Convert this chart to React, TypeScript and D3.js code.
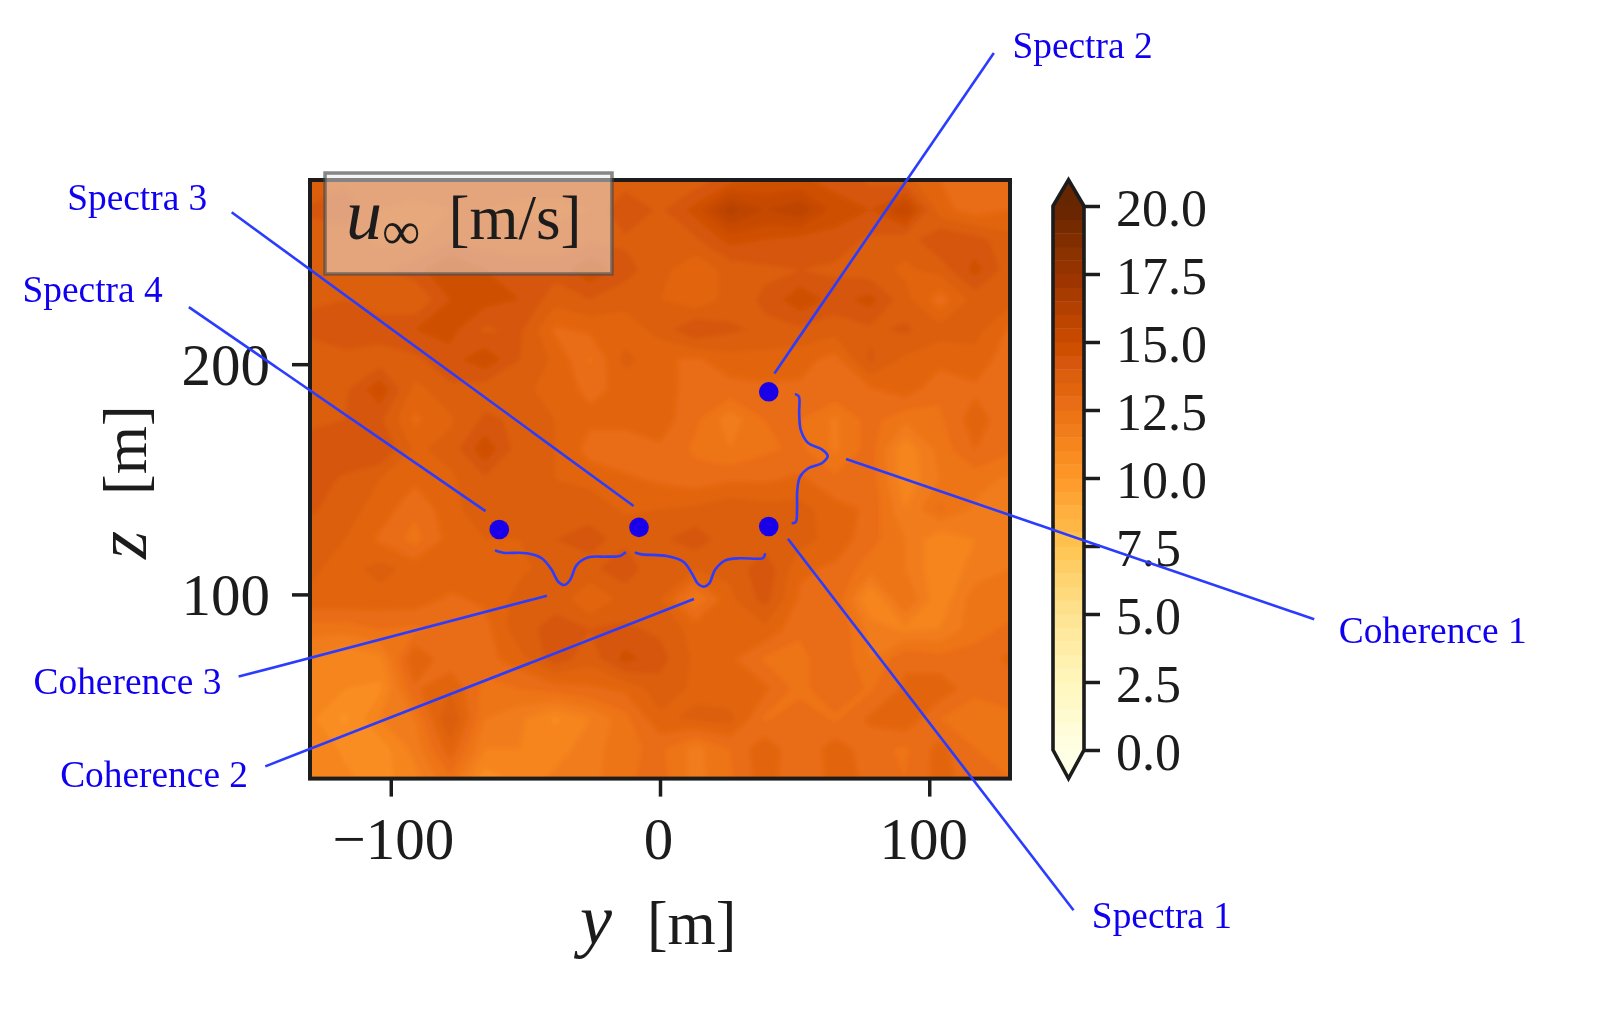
import * as d3 from 'd3';
import { useEffect, useRef } from 'react';

// wind speed on the 21 x 21 inflow plane, top row (z = 280) first
const uRows = [
	[13.5, 13.9, 13.9, 13.7, 13.7, 13.7, 13.7, 13.7, 13.7, 13.7, 13.5, 13.7, 14.3, 14.5, 14.6, 14.3, 13.9, 13.7, 13, 12.9, 12.7],
	[14.1, 14.3, 13.5, 13.4, 13.5, 13.5, 13.4, 13.4, 13.5, 14.5, 13.9, 14.7, 16.2, 15.5, 15.9, 14.8, 14.5, 15.5, 13.2, 12.7, 13],
	[13.7, 13.7, 13.4, 13.4, 13.9, 13.7, 13.7, 13.7, 13.9, 13.9, 13.7, 13.9, 14.7, 14.5, 14.3, 14.3, 13.9, 13.7, 14.5, 14.2, 13.7],
	[13.7, 13.7, 13.9, 14.3, 15, 14.5, 14.2, 14.2, 14.9, 14.2, 13.7, 13.1, 13.7, 13.9, 14, 13.9, 13.7, 13.4, 13.7, 14.7, 13.7],
	[13.9, 14, 13.7, 13.5, 14.5, 14.7, 14.5, 13.7, 14, 13.7, 13.5, 13.1, 13.7, 14.1, 14.9, 14.3, 14.7, 13.7, 12.7, 13.7, 13.7],
	[14.2, 14.2, 14.3, 14.5, 14.7, 13.9, 14.1, 12.9, 13.1, 13.2, 13.7, 14.5, 14.1, 13.9, 13.9, 13.7, 13.9, 14.1, 13.7, 13.7, 12.9],
	[13.5, 13.9, 13.7, 13.9, 14.3, 14.9, 14, 13.4, 12.4, 13.7, 13.1, 12.9, 13.3, 13.3, 13.2, 12.8, 14.1, 13.4, 13.2, 13.3, 12.7],
	[13.5, 13.9, 14.9, 13.3, 13.9, 13.7, 13.7, 13.2, 12.9, 13.1, 13.4, 12.6, 12.8, 12.9, 12.9, 12.9, 12.9, 13.3, 12.6, 12.9, 12.7],
	[13.9, 14, 14.1, 12.9, 13.4, 14.1, 13.9, 13.5, 13.1, 13.2, 13.3, 12.6, 11.7, 12.5, 12.5, 11.9, 12.7, 12.1, 12.4, 13.3, 12.6],
	[14.2, 14.5, 14.5, 13.4, 13.7, 14.9, 13.7, 13.5, 12.8, 12.6, 12.9, 12.4, 12, 12.4, 12.6, 11.9, 12.7, 11.1, 12.2, 13, 12.6],
	[14.3, 13.9, 13.5, 13.1, 13.4, 13.9, 13.7, 13.5, 13.3, 13.1, 12.9, 12.7, 12.9, 12.9, 13.1, 12.6, 12.8, 11.1, 12, 12.2, 11.9],
	[14.1, 13.7, 13.3, 12.6, 13.3, 13.9, 13.7, 13.9, 13.9, 13.4, 13.5, 13.6, 13.9, 13.7, 13.7, 13.2, 12.9, 11.5, 12.6, 11.9, 11.7],
	[13.7, 13.5, 12.9, 12.3, 13.2, 13.5, 13.5, 14, 14.1, 13.9, 13.9, 14.3, 13.7, 13.7, 13.7, 13.3, 12.7, 12, 11.1, 11.5, 11.9],
	[13.6, 13.3, 13.7, 13.3, 13.4, 13.4, 13.4, 13.7, 13.9, 14.3, 13.6, 13.5, 13.6, 14.4, 13.1, 12.9, 12.2, 12, 11.1, 11.7, 12],
	[13.4, 13.4, 13.3, 13.3, 12.9, 13.1, 13.7, 13.9, 13, 13.7, 13.5, 12, 13.4, 14.2, 12.9, 12.9, 10.9, 12.5, 11.1, 12.3, 12.2],
	[12.2, 12.2, 12.5, 12.4, 12.6, 12.8, 13.9, 14.1, 14, 14.1, 13.9, 13.3, 13.5, 13.4, 12.6, 13, 11.8, 11.4, 11.5, 12.3, 12.6],
	[11.5, 11, 11.3, 13.5, 12.6, 12.8, 13.3, 14.3, 13.7, 14.7, 14.2, 13.4, 13.1, 12.4, 12.3, 13, 12, 12.9, 12.7, 12.7, 13.1],
	[11.1, 11, 10.9, 12.9, 13.5, 12.3, 12.5, 12.7, 12.9, 13.1, 13.8, 13.4, 13.1, 13.1, 12.3, 13, 12.4, 13.1, 13.3, 12.7, 12.7],
	[11.1, 10.4, 11.5, 12, 14.1, 12, 11.6, 10.9, 11.5, 12.3, 13.4, 13.6, 13.7, 12.4, 12.9, 12.4, 13.1, 13.4, 12.5, 12, 12.4],
	[11.4, 10.9, 10.7, 11.7, 13.3, 11.5, 11.5, 11.3, 11.7, 12.4, 12.6, 11.8, 12.5, 13.4, 12.5, 13.3, 12.7, 12.4, 13.2, 12.5, 12.4],
	[11.3, 11.1, 10.8, 11.3, 12.4, 10.7, 11.2, 11.6, 11.8, 12.4, 12.7, 11.8, 12.4, 13.3, 12.5, 13.2, 12.9, 12.5, 13.2, 12.7, 12.5],
];

const yDomain = [-130, 130];
const zDomain = [20, 280];
const gridStep = 13;

const yTicks = [-100, 0, 100];
const zTicks = [100, 200];
const cbarTicks = [0, 2.5, 5, 7.5, 10, 12.5, 15, 17.5, 20];
const cbarStep = 0.5;
const cbarExtend = [-1.05, 20.96];

// measurement points
const probeY = [-59.7, -7.8, 40.4, 40.4];
const probeZ = [128.2, 129.1, 129.5, 188];

// leader lines and their captions, in plot units (they run out past the axes)
const labelNames = ['Spectra 1', 'Spectra 2', 'Spectra 3', 'Spectra 4', 'Coherence 1', 'Coherence 2', 'Coherence 3'];
const lineY = [[47.5, 153.6], [42.5, 124], [-9.8, -159.1], [-64.8, -175], [69.1, 243], [12.6, -146.6], [-42, -156.5]];
const lineZ = [[124.2, -37.2], [196, 335.2], [138.4, 266], [136.2, 224.8], [158.8, 89.2], [98, 25.3], [99.4, 64.3]];
const labelY = [160.4, 130.9, -220.2, -236.8, 252.1, -222.8, -232.7];
const labelZ = [-44.7, 333, 266.9, 227, 79, 16.5, 56.8];

// curly braces between the points
const braceAY = [-60.9, -58.2, -49.5, -43.9, -40.2, -37.8, -35.5, -33.4, -30.9, -26.6, -19.8, -14.9, -13];
const braceAZ = [119, 118.1, 117.9, 115.7, 110.6, 105.5, 104.1, 106.3, 112.8, 116.1, 116.4, 116.7, 118.1];
const braceBY = [-9, -6.8, 2.5, 8.7, 11.8, 14.2, 16.3, 18.3, 20.4, 24.1, 29.7, 35.9, 38.2, 39];
const braceBZ = [118.1, 117.4, 116.7, 114.2, 109.2, 104.5, 103.4, 104.8, 110.6, 114.7, 115.7, 115.5, 115.7, 117.4];
const braceCY = [50.5, 51.6, 51.7, 52.3, 55.1, 60.1, 62.3, 60.1, 55.1, 52, 51, 50.9, 50.5, 49.3];
const braceCZ = [186.9, 185.9, 178.7, 171.4, 165.7, 163, 160.1, 157, 154.8, 151.1, 145.4, 136.7, 131.6, 130.9];

const SERIF = '"Liberation Serif", serif';
const INK = '#1c1c1c';
const BLUE_LINE = '#2b3cff';
const BLUE_TEXT = '#1000f0';

const App = () => {
	const svgRef = useRef<SVGSVGElement>(null);

	useEffect(() => {
		const svg = d3.select(svgRef.current);
		svg.selectAll('*').remove();

		const x = d3.scaleLinear(yDomain, [310, 1010]);
		const z = d3.scaleLinear(zDomain, [778.6, 180]);
		const cbarY = d3.scaleLinear([0, 20], [750, 206]);
		const cbarLeft = 1053;
		const cbarRight = 1084;

		// same stops as matplotlib's YlOrBr
		const ramp = d3.schemeYlOrBr[9];
		const color = d3.scaleLinear<string>(d3.range(9).map((i) => i * 2.5), ramp);
		const levels = d3.range(0, 20, cbarStep);

		const defs = svg.append('defs');
		defs.append('filter').attr('id', 'soft').append('feGaussianBlur').attr('stdDeviation', 2.6);
		defs.append('filter').attr('id', 'softer').append('feGaussianBlur').attr('stdDeviation', 0.75);
		defs.append('clipPath').attr('id', 'plot-clip').append('rect')
			.attr('x', x(yDomain[0])).attr('y', z(zDomain[1]))
			.attr('width', x(yDomain[1]) - x(yDomain[0])).attr('height', z(zDomain[0]) - z(zDomain[1]));

		// filled contours
		const values = uRows.flat();
		const contours = d3.contours().size([21, 21]).thresholds(levels)(values);
		// d3 puts a grid node at index + 0.5
		const project = d3.geoTransform({
			point(px, py) {
				const yVal = yDomain[0] + (px - 0.5) * gridStep;
				const zVal = zDomain[1] - (py - 0.5) * gridStep;
				this.stream.point(x(yVal), z(zVal));
			},
		});
		const contourPath = d3.geoPath(project);
		svg.append('g').attr('clip-path', 'url(#plot-clip)')
			.append('g').attr('filter', 'url(#soft)')
			.selectAll('path')
			.data(contours)
			.join('path')
			.attr('d', (d) => contourPath(d))
			.attr('fill', (d) => color(d.value + cbarStep / 2));

		const axes = svg.append('g').attr('filter', 'url(#softer)');

		// plot frame
		axes.append('rect')
			.attr('x', x(yDomain[0])).attr('y', z(zDomain[1]))
			.attr('width', x(yDomain[1]) - x(yDomain[0])).attr('height', z(zDomain[0]) - z(zDomain[1]))
			.attr('fill', 'none').attr('stroke', INK).attr('stroke-width', 4);

		const styleAxis = (g, size) => {
			g.select('.domain').remove();
			g.selectAll('.tick line').attr('stroke', INK).attr('stroke-width', 3.5);
			g.selectAll('.tick text').attr('fill', INK).attr('font-family', SERIF).attr('font-size', size);
		};

		const xAxis = axes.append('g').attr('transform', `translate(0,${z(zDomain[0])})`)
			.call(d3.axisBottom(x).tickValues(yTicks).tickSize(18));
		styleAxis(xAxis, 59);
		xAxis.selectAll('.tick text').attr('y', 80).attr('dy', 0).attr('dx', (d) => (d < 0 ? 2 : d > 0 ? -6 : -2));

		const zAxis = axes.append('g').attr('transform', `translate(${x(yDomain[0])},0)`)
			.call(d3.axisLeft(z).tickValues(zTicks).tickSize(18));
		styleAxis(zAxis, 59);
		zAxis.selectAll('.tick text').attr('x', -40).attr('dy', 20);

		const yLabel = axes.append('text')
			.attr('x', 580).attr('y', 944)
			.attr('font-family', SERIF).attr('font-size', 62).attr('fill', INK);
		yLabel.append('tspan').attr('font-size', 72).attr('font-style', 'italic').text('y');
		yLabel.append('tspan').attr('dx', 35).text('[m]');

		const zLabel = axes.append('text')
			.attr('transform', `translate(146,559) rotate(-90)`)
			.attr('font-family', SERIF).attr('font-size', 62).attr('fill', INK);
		zLabel.append('tspan').attr('font-size', 72).attr('font-style', 'italic').text('z');
		zLabel.append('tspan').attr('dx', 36).text('[m]');

		// colourbar
		const cbarOutline = d3.line()([
			[cbarLeft, cbarY(0)],
			[(cbarLeft + cbarRight) / 2, cbarY(cbarExtend[0])],
			[cbarRight, cbarY(0)],
			[cbarRight, cbarY(20)],
			[(cbarLeft + cbarRight) / 2, cbarY(cbarExtend[1])],
			[cbarLeft, cbarY(20)],
		]) + 'Z';
		const cbar = axes.append('g');
		cbar.append('path').attr('d', d3.line()([
			[cbarLeft, cbarY(20)],
			[(cbarLeft + cbarRight) / 2, cbarY(cbarExtend[1])],
			[cbarRight, cbarY(20)],
		]) + 'Z').attr('fill', ramp[8]);
		cbar.append('path').attr('d', d3.line()([
			[cbarLeft, cbarY(0)],
			[(cbarLeft + cbarRight) / 2, cbarY(cbarExtend[0])],
			[cbarRight, cbarY(0)],
		]) + 'Z').attr('fill', ramp[0]);
		cbar.selectAll('rect')
			.data(levels)
			.join('rect')
			.attr('x', cbarLeft).attr('width', cbarRight - cbarLeft)
			.attr('y', (d) => cbarY(d + cbarStep))
			.attr('height', (d) => cbarY(d) - cbarY(d + cbarStep) + 0.4)
			.attr('fill', (d) => color(d + cbarStep / 2));
		cbar.append('path').attr('d', cbarOutline)
			.attr('fill', 'none').attr('stroke', INK).attr('stroke-width', 3.6).attr('stroke-linejoin', 'miter');

		const cbarAxis = axes.append('g').attr('transform', `translate(${cbarRight},0)`)
			.call(d3.axisRight(cbarY).tickValues(cbarTicks).tickSize(16).tickFormat(d3.format('.1f')));
		styleAxis(cbarAxis, 52);
		cbarAxis.selectAll('.tick text').attr('x', 32).attr('dy', 19);

		// legend box sits over the field and pokes out above the frame
		const legend = svg.append('g');
		legend.append('rect')
			.attr('x', 325).attr('y', 173).attr('width', 287).attr('height', 101)
			.attr('fill', '#ebebeb').attr('fill-opacity', 0.5)
			.attr('stroke', '#4a4a4a').attr('stroke-opacity', 0.65).attr('stroke-width', 3.5);
		const legendText = legend.append('text')
			.attr('x', 346).attr('y', 239)
			.attr('font-family', SERIF).attr('font-size', 63).attr('fill', INK).attr('filter', 'url(#softer)');
		legendText.append('tspan').attr('font-size', 72).attr('font-style', 'italic').text('u');
		legendText.append('tspan').attr('font-size', 54).attr('dy', 10).text('∞');
		legendText.append('tspan').attr('dx', 28).attr('dy', -10).text('[m/s]');

		// annotations go on top of everything, colourbar included
		const note = svg.append('g');
		note.selectAll('line.leader')
			.data(labelNames)
			.join('line')
			.attr('class', 'leader')
			.attr('x1', (_, i) => x(lineY[i][0])).attr('y1', (_, i) => z(lineZ[i][0]))
			.attr('x2', (_, i) => x(lineY[i][1])).attr('y2', (_, i) => z(lineZ[i][1]))
			.attr('stroke', BLUE_LINE).attr('stroke-width', 2.6);

		const brace = d3.line<number>()
			.curve(d3.curveCatmullRom)
			.x((d) => x(d[0]))
			.y((d) => z(d[1]));
		[[braceAY, braceAZ], [braceBY, braceBZ], [braceCY, braceCZ]].forEach(([ys, zs]) => {
			note.append('path')
				.attr('d', brace(ys.map((v, i) => [v, zs[i]])))
				.attr('fill', 'none').attr('stroke', BLUE_LINE).attr('stroke-width', 2.6).attr('stroke-linecap', 'round');
		});

		note.selectAll('circle')
			.data(probeY)
			.join('circle')
			.attr('cx', (d) => x(d)).attr('cy', (_, i) => z(probeZ[i]))
			.attr('r', 9.8).attr('fill', '#1a00e8');

		note.selectAll('text')
			.data(labelNames)
			.join('text')
			.attr('x', (_, i) => x(labelY[i])).attr('y', (_, i) => z(labelZ[i]))
			.attr('font-family', SERIF).attr('font-size', 37.4).attr('fill', BLUE_TEXT)
			.text((d) => d);
	}, []);

	return <svg ref={svgRef} width={1600} height={1026} style={{ position: 'absolute', left: 0, top: 0, background: '#fff' }} />;
};

export default App;
